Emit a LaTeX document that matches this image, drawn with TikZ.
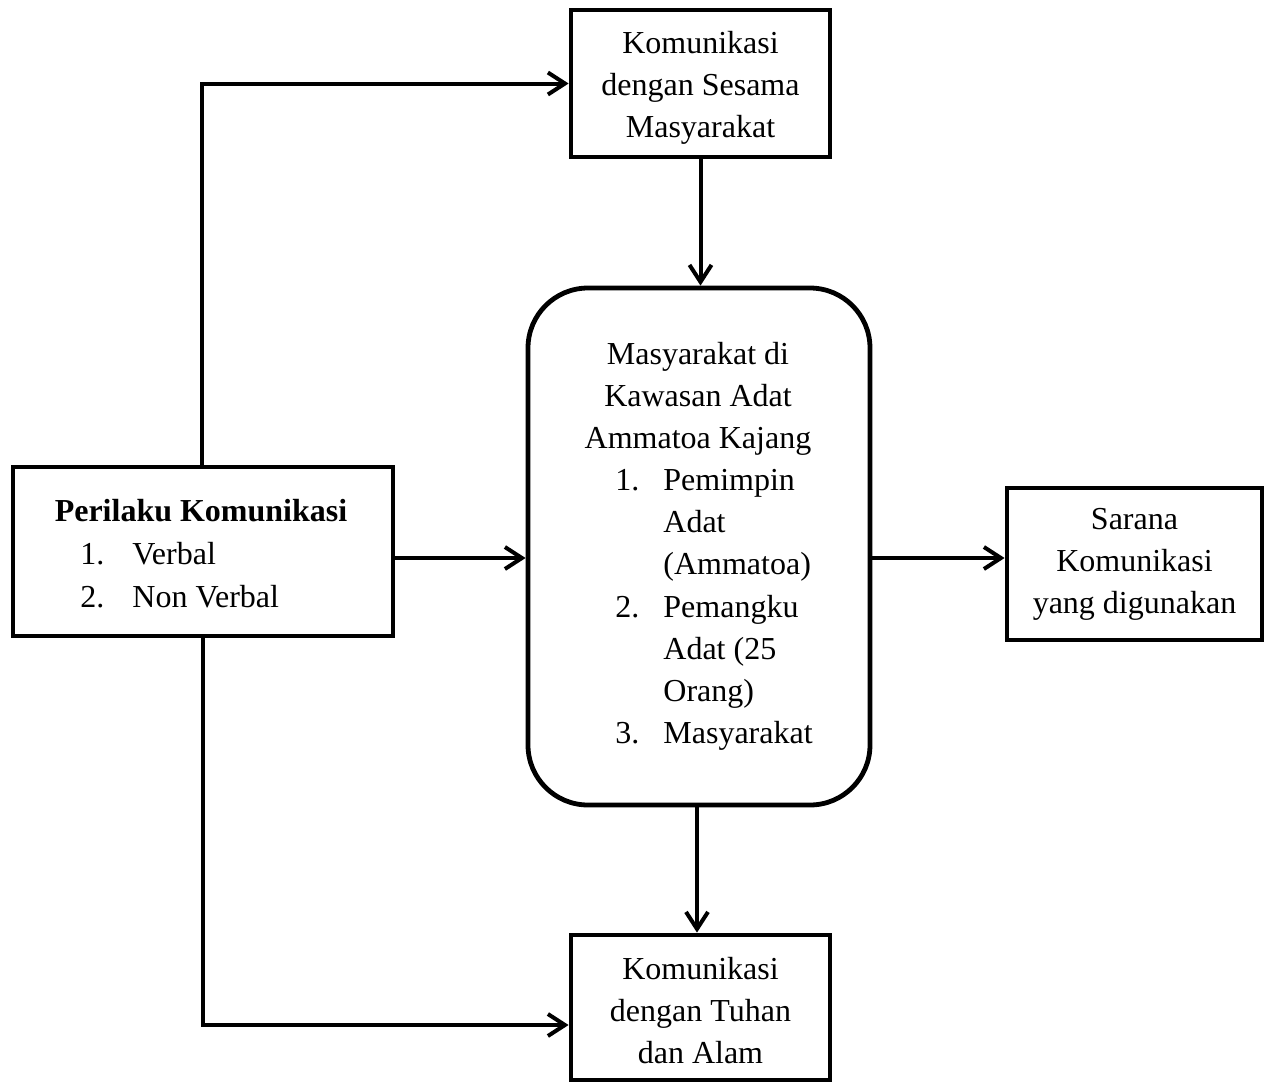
\documentclass[tikz,border=0pt]{standalone}
\usepackage{fontspec}
\setmainfont{Liberation Serif}
\usetikzlibrary{arrows.meta}
\begin{document}
\begin{tikzpicture}[x=0.5pt,y=-0.5pt,
  box/.style={draw, line width=2.4pt, inner sep=0pt},
  txt/.style={inner sep=0pt, font=\fontsize{16pt}{21pt}\selectfont},
  conn/.style={line width=2pt, -{Straight Barb[length=8.5pt,width=11pt]}}]
\useasboundingbox (0,0) rectangle (1271,1083);
\fill[white] (0,0) rectangle (1271,1083);

% boxes
\node[box, minimum width=129.5pt, minimum height=73.5pt] (top) at (700.5,83.5) {};
\node[box, rounded corners=30pt, minimum width=171pt, minimum height=258.5pt] (center) at (699,546.5) {};
\node[box, minimum width=190pt, minimum height=84.5pt] (left) at (203,551.5) {};
\node[box, minimum width=127.5pt, minimum height=76pt] (right) at (1134.5,564) {};
\node[box, minimum width=129.5pt, minimum height=72.5pt] (bottom) at (700.5,1007.5) {};

% texts
\node[txt, align=center] (toptxt) at (700.5,88) {Komunikasi\\dengan Sesama\\Masyarakat};
\node[txt, align=center] (chead) at (698,399) {Masyarakat di\\Kawasan Adat\\Ammatoa Kajang};
\node[txt, align=left, anchor=west, font=\fontsize{16pt}{21.1pt}\selectfont] (clist) at (615,610) {%
\makebox[24pt][l]{1.}Pemimpin\\\makebox[24pt][l]{}Adat\\\makebox[24pt][l]{}(Ammatoa)\\%
\makebox[24pt][l]{2.}Pemangku\\\makebox[24pt][l]{}Adat (25\\\makebox[24pt][l]{}Orang)\\%
\makebox[24pt][l]{3.}Masyarakat};
\node[txt, font=\fontsize{16pt}{21pt}\selectfont\bfseries] (ltitle) at (201,511) {Perilaku Komunikasi};
\node[txt, align=left, anchor=west] (llist) at (80,575) {%
\makebox[26pt][l]{1.}Verbal\\[0.5pt]\makebox[26pt][l]{2.}Non Verbal};
\node[txt, align=center] (righttxt) at (1134.5,564) {Sarana\\Komunikasi\\yang digunakan};
\node[txt, align=center] (bottxt) at (700.5,1011) {Komunikasi\\dengan Tuhan\\dan Alam};

% connectors
\coordinate (ymid) at (0,558);
\draw[conn] ([xshift=-0.5pt]left.north) |- (top.west);
\draw[conn] (left.south) |- ([yshift=-8.75pt]bottom.west);
\draw[conn] (left.east |- ymid) -- (center.west |- ymid);
\draw[conn] (center.east |- ymid) -- (right.west |- ymid);
\draw[conn] (top.south) -- (top.south |- center.north);
\draw[conn] ([xshift=-1pt]center.south) -- ([xshift=-1pt]center.south |- bottom.north);
\end{tikzpicture}
\end{document}
